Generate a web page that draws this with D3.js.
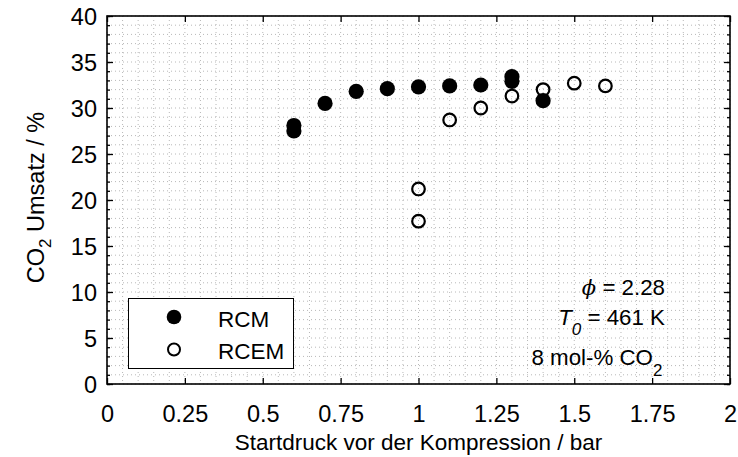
<!DOCTYPE html>
<html><head><meta charset="utf-8">
<script src="https://cdn.jsdelivr.net/npm/d3@7"></script>
<style>
body{margin:0;background:#fff;}
text{font-family:"Liberation Sans",Arial,sans-serif;fill:#000;}
</style></head>
<body>
<svg id="chart" width="738" height="457"></svg>
<script>
const rcmX = [0.6, 0.6, 0.7, 0.8, 0.9, 1.0, 1.1, 1.2, 1.3, 1.3, 1.4];
const rcmY = [28.1, 27.5, 30.5, 31.8, 32.1, 32.3, 32.4, 32.5, 33.4, 32.9, 30.8];
const rcemX = [1.0, 1.0, 1.1, 1.2, 1.3, 1.4, 1.5, 1.6];
const rcemY = [21.2, 17.7, 28.7, 30.0, 31.3, 32.0, 32.7, 32.4];
const xTicks = [0, 0.25, 0.5, 0.75, 1, 1.25, 1.5, 1.75, 2];
const xTickLabels = ["0", "0.25", "0.5", "0.75", "1", "1.25", "1.5", "1.75", "2"];
const yTicks = [0, 5, 10, 15, 20, 25, 30, 35, 40];
const legendLabels = ["RCM", "RCEM"];

(function () {
const svg = d3.select("#chart");
const L = 107, R = 730, T = 16, B = 384;
const x = d3.scaleLinear().domain([0, 2]).range([L, R]);
const y = d3.scaleLinear().domain([0, 40]).range([B, T]);
const fsTick = 23.5, fsLab = 22.5, fsTxt = 22.3;

// grid
const g = svg.append("g");
const xGrid = d3.range(0, 2.0001, 0.05);
const yGrid = d3.range(0, 40.0001, 1);
g.selectAll(".vg").data(xGrid).join("line")
  .attr("x1", d => x(d)).attr("x2", d => x(d)).attr("y1", T).attr("y2", B)
  .attr("stroke", "#b8b8b8").attr("stroke-width", 1).attr("stroke-dasharray", "1,3");
g.selectAll(".hg").data(yGrid).join("line")
  .attr("x1", L).attr("x2", R).attr("y1", d => y(d)).attr("y2", d => y(d))
  .attr("stroke", "#b8b8b8").attr("stroke-width", 1).attr("stroke-dasharray", "1,3");

// axes with inward ticks
const axBottom = svg.append("g").attr("transform", `translate(0,${B})`)
  .call(d3.axisBottom(x).tickValues(xTicks).tickSize(-6).tickFormat((d, i) => xTickLabels[i]).tickPadding(21));
const axTop = svg.append("g").attr("transform", `translate(0,${T})`)
  .call(d3.axisTop(x).tickValues(xTicks).tickSize(-6).tickFormat(""));
const axLeft = svg.append("g").attr("transform", `translate(${L},0)`)
  .call(d3.axisLeft(y).tickValues(yTicks).tickSize(-6).tickPadding(10));
const axLeftMinor = svg.append("g").attr("transform", `translate(${L},0)`)
  .call(d3.axisLeft(y).tickValues(yGrid).tickSize(-3).tickFormat(""));
const axRight = svg.append("g").attr("transform", `translate(${R},0)`)
  .call(d3.axisRight(y).tickValues(yTicks).tickSize(-6).tickFormat(""));
const axRightMinor = svg.append("g").attr("transform", `translate(${R},0)`)
  .call(d3.axisRight(y).tickValues(yGrid).tickSize(-3).tickFormat(""));
[axBottom, axTop, axLeft, axLeftMinor, axRight, axRightMinor].forEach(a => {
  a.select(".domain").remove();
  a.selectAll("line").attr("stroke", "#000").attr("stroke-width", 1.3);
  a.selectAll("text").attr("font-size", fsTick).attr("font-family", '"Liberation Sans",Arial,sans-serif');
});
axLeft.selectAll("text").attr("dy", "0.36em");

svg.append("rect").attr("x", L).attr("y", T).attr("width", R - L).attr("height", B - T)
  .attr("fill", "none").attr("stroke", "#000").attr("stroke-width", 1.6);

// data
svg.selectAll(".rcem").data(rcemX).join("circle")
  .attr("cx", d => x(d)).attr("cy", (d, i) => y(rcemY[i])).attr("r", 6.3)
  .attr("fill", "none").attr("stroke", "#000").attr("stroke-width", 2.2);
svg.selectAll(".rcm").data(rcmX).join("circle")
  .attr("cx", d => x(d)).attr("cy", (d, i) => y(rcmY[i])).attr("r", 7.6)
  .attr("fill", "#000");

// axis labels
svg.append("text").attr("x", (L + R) / 2).attr("y", 450).attr("text-anchor", "middle")
  .attr("font-size", fsLab).text("Startdruck vor der Kompression / bar");
const yl = svg.append("text").attr("transform", `translate(44,197.5) rotate(-90)`)
  .attr("text-anchor", "middle").attr("font-size", 23.5);
yl.append("tspan").text("CO");
yl.append("tspan").attr("font-size", 17).attr("dy", 7).text("2");
yl.append("tspan").attr("dy", -7).text(" Umsatz / %");

// legend
const lg = svg.append("g");
lg.append("rect").attr("x", 128.5).attr("y", 298.5).attr("width", 165).attr("height", 70)
  .attr("fill", "#fff").attr("stroke", "#000").attr("stroke-width", 1);
lg.append("circle").attr("cx", 174).attr("cy", 317).attr("r", 7.3).attr("fill", "#000");
lg.append("circle").attr("cx", 174).attr("cy", 349.5).attr("r", 6).attr("fill", "none")
  .attr("stroke", "#000").attr("stroke-width", 2);
lg.selectAll(".lt").data(legendLabels).join("text")
  .attr("x", 218).attr("y", (d, i) => 326.5 + i * 32).attr("font-size", fsLab).text(d => d);

// annotations
const ax = 665;
const a1 = svg.append("text").attr("x", ax).attr("y", 295).attr("text-anchor", "end").attr("font-size", fsTxt);
a1.append("tspan").attr("font-style", "italic").attr("font-family", '"DejaVu Serif",serif').attr("font-size", 21).text("ϕ");
a1.append("tspan").text(" = 2.28");
const a2 = svg.append("text").attr("x", ax).attr("y", 325).attr("text-anchor", "end").attr("font-size", fsTxt);
a2.append("tspan").attr("font-style", "italic").text("T");
a2.append("tspan").attr("font-style", "italic").attr("font-size", 17).attr("dy", 10).text("0");
a2.append("tspan").attr("dy", -10).text(" = 461 K");
const a3 = svg.append("text").attr("x", 531.5).attr("y", 365).attr("text-anchor", "start").attr("font-size", fsTxt);
a3.append("tspan").text("8 mol-% CO");
a3.append("tspan").attr("font-size", 17).attr("dy", 11).text("2");
})();
</script>
</body></html>
